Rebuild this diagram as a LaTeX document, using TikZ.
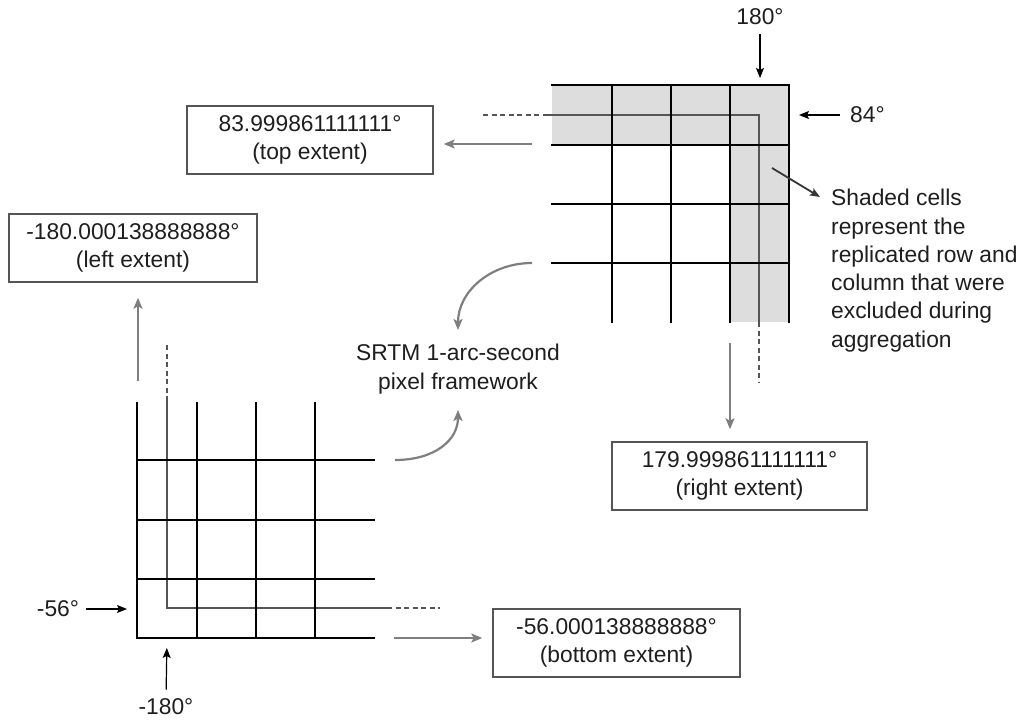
\documentclass[tikz,border=0pt]{standalone}
\usepackage{fontspec}
\setmainfont{Liberation Sans}
\usetikzlibrary{arrows.meta}
\definecolor{arrowgray}{HTML}{7F7F7F}
\definecolor{shadegray}{HTML}{DDDDDD}
\definecolor{linegray}{HTML}{555555}
\definecolor{textgray}{HTML}{1E1E1E}

\begin{document}
\begin{tikzpicture}[x=1pt,y=-1pt,
    every node/.style={font=\fontsize{22.8pt}{28.3pt}\selectfont,text=textgray,inner sep=0pt},
    extbox/.style={draw=linegray,line width=1.5pt,align=center,minimum width=246pt,minimum height=68pt},
    extarrow/.style={draw=arrowgray,line width=2.2pt,-{Stealth[length=11pt,width=9pt,inset=2.5pt]}},
    degarrow/.style={draw=black,line width=1.2pt,-{Stealth[length=10pt,width=8pt,inset=2pt]}},
    gridline/.style={draw=black,line width=2.4pt,line cap=rect},
    thinline/.style={draw=linegray,line width=1.3pt},
    thindash/.style={thinline,dash pattern=on 5pt off 3.5pt}]
    \useasboundingbox (0,0) rectangle (1018,722);

    % Top-right grid (shaded row and column)
    \fill[shadegray] (552,85) rectangle (789,145);
    \fill[shadegray] (730,85) rectangle (789,322);
    \draw[thindash] (483,115) -- (543,115);
    \draw[thinline] (543,115) -- (759,115) -- (759,322);
    \draw[thindash] (759,322) -- (759,382);
    \foreach \y in {85,145,204,263}
        \draw[gridline] (552,\y) -- (789,\y);
    \foreach \x in {612,671,730,789}
        \draw[gridline] (\x,85) -- (\x,322);

    % Bottom-left grid
    \draw[thindash] (167,345) -- (167,398);
    \draw[thinline] (167,398) -- (167,608) -- (387,608);
    \draw[thindash] (387,608) -- (440,608);
    \foreach \y in {460,520,579,638}
        \draw[gridline] (137,\y) -- (374,\y);
    \foreach \x in {137,197,256,315}
        \draw[gridline] (\x,403) -- (\x,638);

    % Extent boxes
    \node[extbox] (topx) at (310,140) {83.999861111111°\\(top extent)};
    \node[extbox,minimum width=248pt] (leftx) at (133,248) {-180.000138888888°\\(left extent)};
    \node[extbox,minimum width=255pt] (rightx) at (739.5,476) {179.999861111111°\\(right extent)};
    \node[extbox,minimum width=247pt] (botx) at (616.5,643) {-56.000138888888°\\(bottom extent)};

    \coordinate (ttail) at (532,144);
    \coordinate (lefttail) at (138,381);
    \coordinate (righttail) at (730,343);
    \coordinate (bottail) at (394,638);
    \draw[extarrow,shorten >=10pt] (ttail) -- (ttail -| topx.east);
    \draw[extarrow,shorten >=15pt] (lefttail) -- (lefttail |- leftx.south);
    \draw[extarrow,shorten >=12pt] (righttail) -- (righttail |- rightx.north);
    \draw[extarrow,shorten >=10pt] (bottail) -- (bottail -| botx.west);

    % Framework label
    \node[align=center] (srtm) at (458,369) {SRTM 1-arc-second\\pixel framework};
    \coordinate (srtmtop) at (532,263);
    \coordinate (srtmbot) at (395,460);
    \draw[extarrow] (srtmtop) .. controls (490,263) and (458,292) .. ([yshift=14pt]srtm.north);
    \draw[extarrow] (srtmbot) .. controls (435,460) and (458,440) .. ([yshift=-16pt]srtm.south);

    % Degree marks
    \node (l180) at (760,17) {180°};
    \node[anchor=west] (l84) at (850,115) {84°};
    \node (l56) at (58,609) {-56°};
    \node (lm180) at (166,707) {-180°};
    \coordinate (g180) at (760,85);
    \coordinate (g84) at (789,115);
    \coordinate (g56) at (137,609);
    \coordinate (gm180) at (167,638);
    \draw[degarrow,shorten <=9pt,shorten >=7pt] (l180.south) -- (g180);
    \draw[degarrow,shorten <=10pt,shorten >=10pt] (l84.west) -- (g84);
    \draw[degarrow,shorten <=7pt,shorten >=10pt] (l56.east) -- (g56);
    \draw[degarrow,shorten <=9pt,shorten >=10pt] (lm180.north) -- (gm180);

    % Note on shaded cells
    \node[anchor=north west,align=left] (shade) at (831,189) {Shaded cells\\represent the\\replicated row and\\column that were\\excluded during\\aggregation};
    \coordinate (shadetail) at (772,168);
    \draw[degarrow,draw=textgray!90,line width=1.8pt] (shadetail) -- ([xshift=-11pt,yshift=-8pt]shade.north west);
\end{tikzpicture}
\end{document}
